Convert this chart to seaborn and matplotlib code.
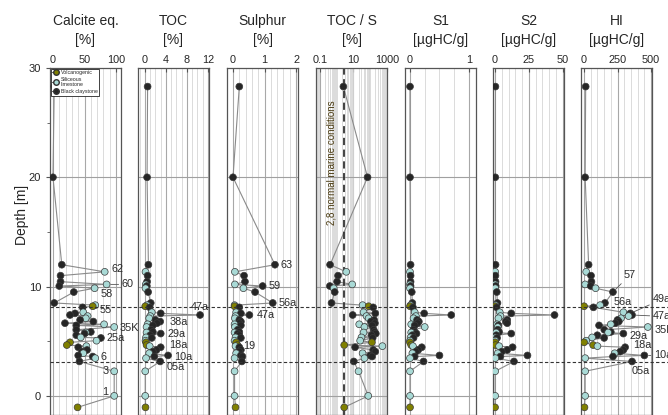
import numpy as np
import pandas as pd
import matplotlib
matplotlib.use("Agg")
import matplotlib.pyplot as plt
import matplotlib.ticker as mticker
import matplotlib.transforms as mtransforms
from matplotlib.lines import Line2D
import seaborn as sns

# samples, top to bottom
depth = [28.3, 20.0, 12.0, 11.35, 11.0, 10.45, 10.2, 10.05, 9.85, 9.5, 8.5, 8.3, 8.2, 8.1,
         7.65, 7.55, 7.4, 7.3, 7.1, 6.95, 6.8, 6.65, 6.55, 6.45, 6.3, 6.05, 5.85, 5.8, 5.7,
         5.55, 5.35, 5.3, 5.05, 4.9, 4.65, 4.55, 4.45, 4.2, 4.05, 3.9, 3.7, 3.6, 3.45, 3.15,
         2.25, 0.0, -1.05]
litho_code = ['C', 'C', 'C', 'L', 'C', 'C', 'L', 'C', 'L', 'C', 'C', 'L', 'V', 'C',
              'L', 'C', 'C', 'L', 'L', 'C', 'C', 'C', 'L', 'C', 'L', 'C', 'C', 'L', 'C',
              'C', 'L', 'C', 'L', 'V', 'V', 'L', 'C', 'C', 'C', 'L', 'C', 'C', 'L', 'C',
              'L', 'L', 'V']
calcite = [2, 0, 14, 82, 12, 12, 85, 10, 66, 33, 2, 67, 63, 47,
           48, 35, 27, 55, 52, 43, 64, 19, 81, 37, 97, 37, 60, 52, 50,
           37, 44, 76, 69, 27, 22, 53, 40, 54, 46, 48, 40, 63, 67, 42,
           97, 97, 39]
toc = [0.5, 0.4, 0.65, 0.1, 0.5, 0.4, 0.15, 0.35, 0.1, 0.6, 1.1, 0.4, 0.05, 0.9,
       1.3, 3.0, 10.5, 1.0, 0.8, 2.0, 2.9, 2.3, 0.5, 1.5, 0.3, 1.2, 1.5, 0.3, 3.0,
       1.0, 0.2, 1.3, 0.1, 0.2, 0.3, 0.9, 3.0, 2.2, 1.5, 0.8, 4.4, 1.8, 0.2, 2.9,
       0.05, 0.05, 0.1]
sulphur = [0.2, 0.0, 1.33, 0.06, 0.35, 0.38, 0.06, 0.94, 0.33, 0.7, 1.26, 0.05, 0.05, 0.2,
           0.1, 0.25, 0.52, 0.08, 0.06, 0.2, 0.25, 0.2, 0.05, 0.25, 0.06, 0.15, 0.2, 0.05, 0.15,
           0.2, 0.08, 0.25, 0.05, 0.1, 0.14, 0.08, 0.2, 0.25, 0.2, 0.1, 0.25, 0.3, 0.05, 0.28,
           0.05, 0.05, 0.08]
toc_s = [2.5, 69, 0.4, 3.7, 1.2, 1.05, 8.4, 0.39, 0.66, 0.76, 0.49, 35, 80, 150,
         40, 200, 9, 60, 80, 170, 110, 190, 22, 130, 45, 160, 180, 40, 215,
         120, 30, 140, 25, 125, 2.8, 530, 12.5, 150, 200, 35, 100, 130, 45, 10.4,
         20, 76, 2.8]
s1 = [0, 0, 0.01, 0, 0.01, 0.01, 0, 0.01, 0, 0.03, 0.04, 0.01, 0, 0.05,
      0.08, 0.24, 0.7, 0.1, 0.06, 0.12, 0.15, 0.13, 0.02, 0.08, 0.25, 0.06, 0.08, 0.02, 0.11,
      0.04, 0.01, 0.06, 0, 0, 0.02, 0.05, 0.2, 0.14, 0.1, 0.04, 0.5, 0.08, 0, 0.23,
      0, 0, 0]
s2 = [0.3, 0.2, 0.4, 0.1, 0.3, 0.4, 0.1, 0.5, 0.2, 1.3, 1.8, 0.4, 0, 1.2,
      3.5, 12, 44, 4, 2.5, 9, 8, 9, 1.5, 2.5, 2, 2, 3, 0.8, 12,
      1, 0.3, 1.5, 0.2, 0.1, 0.3, 3, 13, 9, 5, 2, 24, 4, 0.2, 14,
      0.1, 0.1, 0]
hi = [12, 8, 34, 16, 52, 55, 8, 50, 86, 216, 156, 120, 0, 70,
      294, 346, 359, 333, 276, 250, 260, 234, 200, 112, 477, 151, 200, 180, 294,
      99, 60, 150, 16, 0, 68, 100, 307, 294, 270, 229, 451, 216, 8, 359,
      8, 8, 3]
sample_id = ['', '', '63', '62', '', '', '60', '59', '58', '57', '56a', '55', '', '',
             '', '49a', '47a', '', '', '', '38a', '', '', '', '35K', '', '', '', '29a',
             '', '', '25a', '', '', '19', '', '18a', '', '', '', '10a', '', '6', '05a',
             '3', '1', '']

litho_names = {'V': 'Volcanogenic', 'L': 'Siliceous limestone', 'C': 'Black claystone'}
colors = {'Volcanogenic': '#808000', 'Siliceous limestone': '#a9dad6', 'Black claystone': '#262626'}

df = pd.DataFrame({'depth': depth, 'litho': [litho_names[c] for c in litho_code],
                   'calcite': calcite, 'toc': toc, 'sulphur': sulphur, 'toc_s': toc_s,
                   's1': s1, 's2': s2, 'hi': hi, 'sample': sample_id})

sns.set_style("ticks")
plt.rcParams['font.family'] = ['Liberation Sans', 'DejaVu Sans']

# column, title, unit, left px, xlim, ticks, minor step
panels = [
    ('calcite', 'Calcite eq.', '[%]', 50, (-4.7, 107.8), [0, 50, 100], 10),
    ('toc', 'TOC', '[%]', 138, (-1.33, 12.2), [0, 4, 8, 12], 1),
    ('sulphur', 'Sulphur', '[%]', 227, (-0.19, 2.06), [0, 1, 2], 0.2),
    ('toc_s', 'TOC / S', '[%]', 316, (0.058, 760), [0.1, 10, 1000], None),
    ('s1', 'S1', '[µgHC/g]', 405, (-0.085, 1.12), [0, 1], 0.25),
    ('s2', 'S2', '[µgHC/g]', 493, (-1.5, 51), [0, 25, 50], 5),
    ('hi', 'HI', '[µgHC/g]', 581, (-23, 508), [0, 250, 500], 50),
]

# label offsets in points: (dx, dy, ha, leader)
notes = {
    'calcite': {'62': (5, 2, 'left', False), '60': (11, 0, 'left', True), '58': (4, -4, 'left', False),
                '55': (3, -3.5, 'left', False), '35K': (4, -1, 'left', False), '25a': (4, 0, 'left', False),
                '6': (4, 1, 'left', False), '3': (-4, 0, 'right', False), '1': (-4, 3, 'right', False)},
    'toc': {'47a': (-6.5, 5.5, 'left', False), '38a': (6.5, 0, 'left', False), '29a': (5, 0, 'left', False),
            '18a': (6, 1.5, 'left', False), '10a': (4.5, -0.8, 'left', False), '05a': (4.5, -3.8, 'left', False)},
    'sulphur': {'63': (4, 0, 'left', False), '59': (4, 0, 'left', False), '56a': (4, 0, 'left', False),
                '47a': (5, 0, 'left', False), '19': (4, -1, 'left', False)},
    'hi': {'57': (7.5, 12, 'left', True), '56a': (6, 1, 'left', False), '49a': (16, 10, 'left', True),
           '47a': (15, -1, 'left', True), '35K': (4.5, -2, 'left', False), '29a': (4.5, -2, 'left', False),
           '18a': (6, 1.5, 'left', False), '10a': (7, 0, 'left', True), '05a': (0, -7, 'left', False)},
}

W, H = 668, 415
fig = plt.figure(figsize=(W / 100, H / 100), dpi=100)
axes = []
for col, title, unit, left, xlim, ticks, step in panels:
    ax = fig.add_axes([left / W, 0, 71 / W, (H - 68) / H])
    axes.append(ax)
    if col == 'toc_s':
        ax.set_xscale('log')
    ax.set_xlim(*xlim)
    ax.set_ylim(-1.75, 30)

    # grid
    if col == 'toc_s':
        ax.xaxis.set_minor_locator(mticker.LogLocator(base=10, subs=np.arange(1, 10), numticks=20))
    else:
        ax.xaxis.set_minor_locator(mticker.MultipleLocator(step))
    ax.xaxis.set_minor_formatter(mticker.NullFormatter())
    ax.grid(which='minor', axis='x', color='#d6d6d6', lw=0.6)
    ax.grid(which='major', axis='x', color='#a8a8a8', lw=0.8)
    for d in [0, 10, 20]:
        ax.axhline(d, color='#a0a0a0', lw=0.8, zorder=1)

    sns.lineplot(data=df, x=col, y='depth', sort=False, estimator=None, color='#8a8a8a',
                 lw=0.8, ax=ax, zorder=2)
    sns.scatterplot(data=df, x=col, y='depth', hue='litho', palette=colors, s=24,
                    edgecolor='#3a3a3a', linewidth=0.5, legend=False, ax=ax, zorder=3)

    ax.xaxis.tick_top()
    ax.set_xticks(ticks)
    ax.set_xticklabels(['0.1', '10', '1000'] if col == 'toc_s' else [str(t) for t in ticks])
    ax.tick_params(axis='x', which='major', direction='in', length=3, pad=2, labelsize=7.8,
                   color='#555555')
    ax.tick_params(axis='x', which='minor', length=0)
    ax.set_xlabel('')
    ax.set_ylabel('')
    for sp in ax.spines.values():
        sp.set_color('#555555')
        sp.set_linewidth(0.9)

    cx = (left + 35.5) / W
    fig.text(cx, 1 - 21 / H, title, ha='center', va='center', fontsize=10)
    fig.text(cx, 1 - 40 / H, unit, ha='center', va='center', fontsize=10)

    for sid, (dx, dy, ha, leader) in notes.get(col, {}).items():
        row = df[df['sample'] == sid].iloc[0]
        props = dict(arrowstyle='-', color='#555555', lw=0.6, shrinkA=0, shrinkB=3) if leader else None
        ax.annotate(sid, xy=(row[col], row['depth']), xytext=(dx, dy), textcoords='offset points',
                    ha=ha, va='center', fontsize=7.8, color='#2b2b2b', arrowprops=props,
                    annotation_clip=False, zorder=4)

# depth axis only on first panel
ax0 = axes[0]
ax0.set_yticks([0, 10, 20, 30])
ax0.yaxis.set_minor_locator(mticker.MultipleLocator(5))
ax0.tick_params(axis='y', which='major', direction='out', length=3, labelsize=8, color='#555555')
ax0.tick_params(axis='y', which='minor', direction='out', length=2, color='#555555')
for ax in axes[1:]:
    ax.tick_params(axis='y', which='both', left=False, labelleft=False)
fig.text(22 / W, 1 - 215 / H, 'Depth [m]', rotation=90, ha='center', va='center', fontsize=10)

# marine line in TOC/S
ax_ts = axes[3]
ax_ts.axvline(2.8, color='#333333', ls=(0, (4, 2.5)), lw=1.3, zorder=2.5)
ax_ts.text(0.5, 21.3, '2,8 normal marine conditions', rotation=90, ha='center', va='center',
           fontsize=7, color='#4a3a10')

# dashed horizons across the panels
blend = mtransforms.blended_transform_factory(fig.transFigure, ax0.transData)
for d in [8.1, 3.08]:
    fig.add_artist(Line2D([50 / W, 1.0], [d, d], transform=blend, color='#333333',
                          ls=(0, (3, 2)), lw=0.8, zorder=5))

# legend
handles = [Line2D([0], [0], marker='o', color='#555555', lw=0.8, markersize=4,
                  markerfacecolor=colors[n], markeredgecolor='#333333')
           for n in ['Volcanogenic', 'Siliceous limestone', 'Black claystone']]
leg = ax0.legend(handles, ['Volcanogenic', 'Siliceous\nlimestone', 'Black claystone'],
                 loc='upper left', fontsize=3.8, frameon=True, fancybox=False, framealpha=1,
                 edgecolor='#222222', borderaxespad=0.1, borderpad=0.3, labelspacing=0.3,
                 handlelength=1.3, handletextpad=0.3)
leg.get_frame().set_linewidth(0.6)
leg.set_zorder(6)

fig.savefig('out.png', dpi=100)
